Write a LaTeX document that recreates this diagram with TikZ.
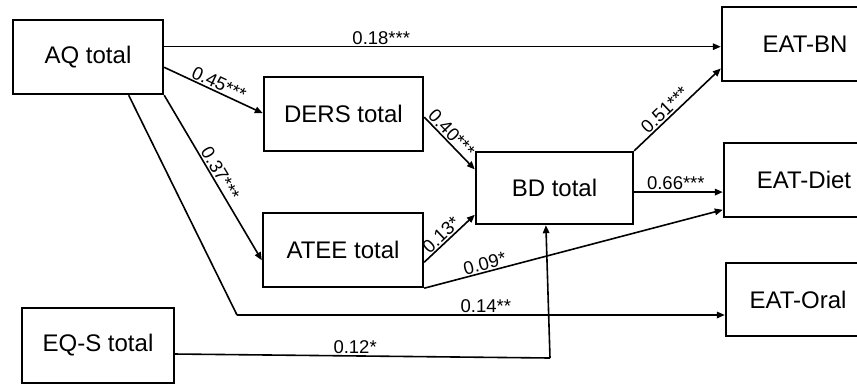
\documentclass[tikz,border=0pt]{standalone}
\usepackage{fontspec}
\setmainfont{Liberation Sans}
\usetikzlibrary{arrows.meta,calc}
\begin{document}
\begin{tikzpicture}[x=1pt,y=-1pt,
 box/.style={draw,line width=2.4pt,minimum width=#1,minimum height=74pt,inner sep=0pt,font=\fontsize{24}{28}\selectfont},
 arr/.style={line width=1.6pt,-{Triangle[length=8pt,width=6.5pt]}},
 ln/.style={line width=1.6pt},
 lab/.style={font=\fontsize{18.5}{20}\selectfont,inner sep=1.2pt}]
\useasboundingbox (0,0) rectangle (857,384);
% boxes
\node[box=150pt] (aq) at (88,57) {AQ total};
\node[box=159pt] (ders) at (343.5,114) {DERS total};
\node[box=160pt] (atee) at (343,250) {ATEE total};
\node[box=157pt,minimum height=72pt] (bd) at (554.5,188) {BD total};
\node[box=166pt] (bn) at (805,44) {EAT-BN};
\node[box=160pt] (diet) at (804,180) {EAT-Diet};
\node[box=144pt,minimum height=73pt] (oral) at (798,299.5) {EAT-Oral};
\node[box=152pt,minimum height=75pt] (eqs) at (98,345.5) {EQ-S total};
% connectors
\draw[arr] ($(aq.north east)!0.365!(aq.south east)$) coordinate (a1) -- (a1 -| bn.west)
  node[lab,pos=0.39,above] (l1) {0.18***};
\draw[arr] ($(aq.north east)!0.635!(aq.south east)$) -- ($(ders.north west)!0.49!(ders.south west)$)
  node[lab,pos=0.52,above,sloped] (l2) {0.45***};
\draw[arr] (aq.south east) -- ($(atee.north west)!0.635!(atee.south west)$)
  node[lab,pos=0.5,above,sloped] (l3) {0.37***};
\coordinate (k1) at (237,315);
\draw[ln] ($(aq.south west)!0.767!(aq.south east)$) -- (k1);
\draw[arr] (k1) -- (k1 -| oral.west)
  node[lab,pos=0.51,above] (l4) {0.14**};
\draw[arr] ($(ders.north east)!0.54!(ders.south east)$) -- ($(bd.north west)!0.25!(bd.south west)$)
  node[lab,pos=0.42,above,sloped] (l5) {0.40***};
\draw[arr] ($(atee.north east)!0.66!(atee.south east)$) -- ($(bd.north west)!0.86!(bd.south west)$)
  node[lab,pos=0.45,above,sloped] (l6) {0.13*};
\draw[arr] (atee.south east) -- ($(diet.north west)!0.89!(diet.south west)$)
  node[lab,pos=0.21,above,sloped] (l7) {0.09*};
\draw[arr] (bd.north east) -- ($(bn.north west)!0.82!(bn.south west)$)
  node[lab,pos=0.42,above,sloped] (l8) {0.51***};
\draw[arr] ($(bd.north east)!0.555!(bd.south east)$) coordinate (b1) -- (b1 -| diet.west)
  node[lab,pos=0.47,above] (l9) {0.66***};
\coordinate (k2) at (550,358);
\draw[ln] ($(eqs.north east)!0.61!(eqs.south east)$) -- (k2)
  node[lab,pos=0.48,above] (l10) {0.12*};
\draw[arr] (k2) -- ($(bd.south west)!0.446!(bd.south east)$);
\end{tikzpicture}
\end{document}
